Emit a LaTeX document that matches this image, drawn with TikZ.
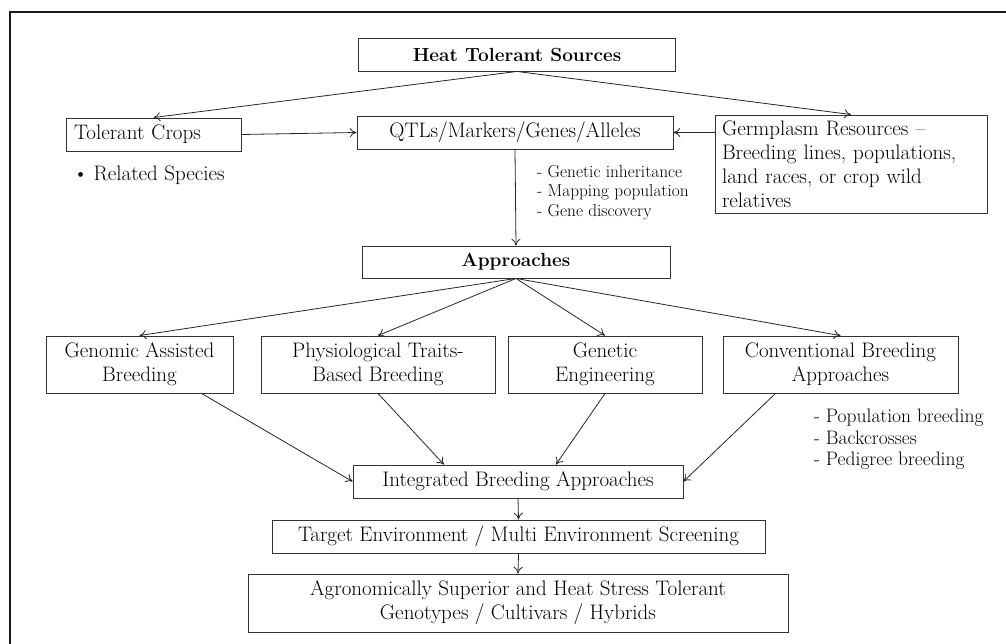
\documentclass[tikz,border=0pt]{standalone}
\usetikzlibrary{arrows.meta,positioning}

\begin{document}
\begin{tikzpicture}[
  x=1pt,y=-1pt,
  font=\fontsize{21}{24}\selectfont,
  box/.style={draw=black!80,line width=0.9pt,inner sep=0pt,align=center,minimum height=33pt},
  lbox/.style={draw=black!80,line width=0.9pt,inner ysep=0pt,align=left},
  hdbox/.style={box,font=\fontsize{19}{22}\selectfont\bfseries},
  note/.style={anchor=west,align=left,inner sep=0pt},
  flow/.style={line width=0.8pt,draw=black!85,-{To[length=2.4mm,width=3.2mm]}},
  frm/.style={line width=2pt,draw=black!90}
]
\useasboundingbox (0,0) rectangle (1006,644);

% ================= frame =================
\draw[frm] (10,644) -- (10,12) -- (1006,12);

% ================= sources =================
\node[hdbox,minimum width=317pt] (hts) at (517,54.5) {Heat Tolerant Sources};

\node[lbox,text width=159pt,inner xsep=8pt,minimum height=33pt] (tc) at (153.5,134.5) {Tolerant Crops};
\node[note] (rs) at (73,175) {\textbullet\hspace{0.25em}Related Species};

\node[box,minimum width=316pt] (qtl) at (515,132.5) {QTLs/Markers/Genes/Alleles};

\node[lbox,text width=258pt,inner xsep=7pt,minimum height=98pt] (gr) at (851,164)
  {Germplasm Resources --\\Breeding lines, populations,\\land races, or crop wild\\relatives};

\node[note,font=\fontsize{17.3}{19.5}\selectfont] (qn) at (537,192.5)
  {- Genetic inheritance\\- Mapping population\\- Gene discovery};

% ================= approaches =================
\node[hdbox,minimum width=308pt,minimum height=32pt] (app) at (516,262) {Approaches};

\node[box,minimum width=187pt,minimum height=57pt] (gab) at (139.5,364.5) {Genomic Assisted\\Breeding};
\node[box,minimum width=234pt,minimum height=57pt] (ptb) at (378,364.5) {Physiological Traits-\\Based Breeding};
\node[box,minimum width=194pt,minimum height=57pt] (ge) at (605,364.5) {Genetic\\Engineering};
\node[box,minimum width=235pt,minimum height=57pt] (cba) at (840.5,364.5) {Conventional Breeding\\Approaches};

\node[note,font=\fontsize{19.5}{21.5}\selectfont] (cn) at (814,439.5)
  {- Population breeding\\- Backcrosses\\- Pedigree breeding};

% ================= outcome =================
\node[box,minimum width=330pt] (iba) at (518,481.5) {Integrated Breeding Approaches};
\node[box,minimum width=493pt] (tem) at (518.5,536.5) {Target Environment / Multi Environment Screening};
\node[box,minimum width=540pt,minimum height=58pt] (agr) at (518,603)
  {Agronomically Superior and Heat Stress Tolerant\\Genotypes / Cultivars / Hybrids};

% ================= connectors =================
\draw[flow] (hts.south) -- (tc.north);
\draw[flow] (hts.south) -- (gr.north);
\draw[flow] (tc.east) -- (qtl.west);
\draw[flow] (qtl.east -| gr.west) -- (qtl.east);
\draw[flow] (qtl.south) -- (app.north);

\foreach \t in {gab,ptb,ge,cba}
  \draw[flow] (app.south) -- (\t.north);

\draw[flow] (gab.-25) -- (iba.west);
\draw[flow] (ptb.south) -- ([xshift=-74pt]iba.north);
\draw[flow] (ge.south) -- ([xshift=38pt]iba.north);
\draw[flow] (cba.204) -- (iba.east);

\draw[flow] (iba.south) -- (tem.north);
\draw[flow] (tem.south) -- (agr.north);

\end{tikzpicture}
\end{document}
